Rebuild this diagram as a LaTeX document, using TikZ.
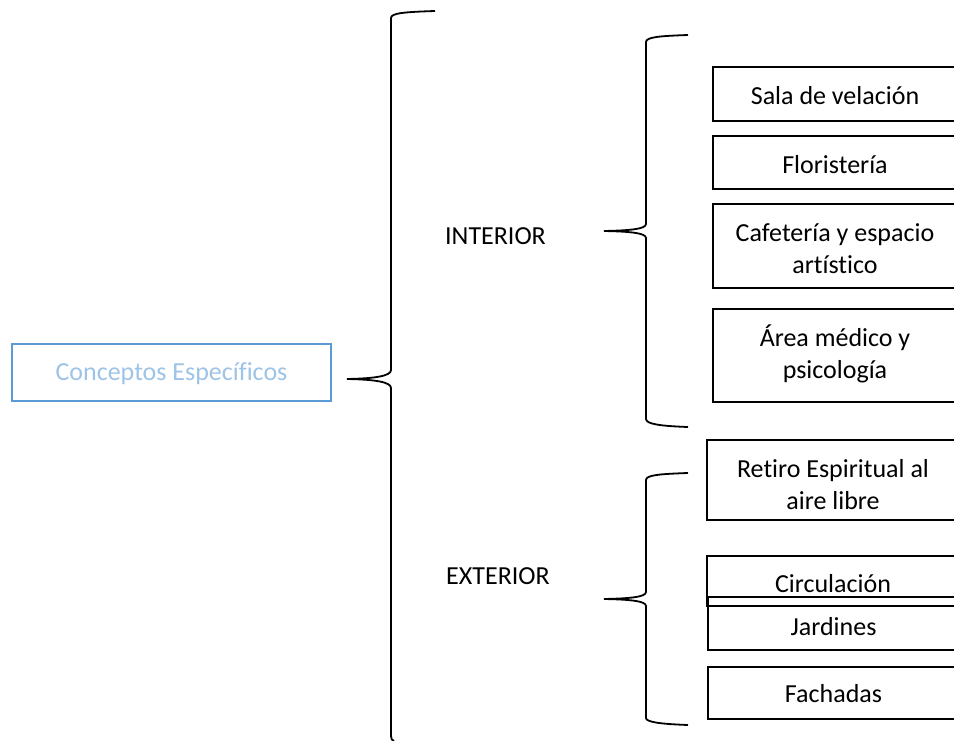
\documentclass[tikz,border=0pt]{standalone}
\usepackage{fontspec}
\setmainfont{Carlito}[Ligatures=CommonOff]
\definecolor{boxblue}{RGB}{91,155,213}
\definecolor{txtblue}{RGB}{157,195,230}
\begin{document}
\begin{tikzpicture}[x=1pt,y=-1pt,
  txt/.style={font=\fontsize{26}{32}\selectfont, align=center, inner sep=0pt},
  rootbox/.style={draw=boxblue, line width=2.6pt, inner sep=0pt},
  itembox/.style={draw=black, line width=1.8pt, inner sep=0pt},
  brace/.style={draw=black, line width=1.8pt}]
\useasboundingbox (0,0) rectangle (954,741);
\clip (0,0) rectangle (954,741);
% root
\node[rootbox, minimum width=319pt, minimum height=57pt,
  label={[txt, text=txtblue, yshift=-1pt]center:Conceptos Específicos}] (root) at (171.5,372.5) {};
% categories
\node[txt] (int) at (495.5,236) {INTERIOR};
\node[txt] (ext) at (498,576) {EXTERIOR};
% interior items
\node[itembox, minimum width=244pt, minimum height=54pt,
  label={[txt, yshift=-2pt]center:Sala de velación}] (sala) at (835,94) {};
\node[itembox, minimum width=244pt, minimum height=53pt,
  label={[txt, yshift=-2.5pt]center:Floristería}] (flor) at (835,162.5) {};
\node[itembox, minimum width=244pt, minimum height=84pt,
  label={[txt, yshift=-3pt]center:{Cafetería y espacio\\artístico}}] (cafe) at (835,246) {};
\node[itembox, minimum width=244pt, minimum height=93pt,
  label={[txt, yshift=1.5pt]center:{Área médico y\\psicología}}] (area) at (835,355.5) {};
% exterior items
\node[itembox, minimum width=252pt, minimum height=80pt,
  label={[txt, yshift=-4.5pt]center:{Retiro Espiritual al\\aire libre}}] (retiro) at (833,480) {};
\node[itembox, minimum width=252pt, minimum height=50pt,
  label={[txt, yshift=-3pt]center:Circulación}] (circ) at (833,581) {};
\node[itembox, minimum width=251pt, minimum height=53pt,
  label={[txt, yshift=-3pt]center:Jardines}] (jard) at (833.5,623.5) {};
\node[itembox, minimum width=251pt, minimum height=52pt,
  label={[txt, yshift=-1pt]center:Fachadas}] (fach) at (833.5,693) {};
% brace coordinates
\coordinate (bigtip) at (347,379);
\coordinate (bigtop) at (435,11);
\coordinate (bigbot) at (394,741);
\coordinate (inttip) at (604,231);
\coordinate (inttop) at (688,35);
\coordinate (intbot) at (688,427);
\coordinate (exttip) at (604,599);
\coordinate (exttop) at (688,473);
\coordinate (extbot) at (688,725);
% big brace
\draw[brace] (bigtop) .. controls (405,12) and (391,13) .. (391,18) -- (391,370)
  .. controls (391,376) and (375,378.5) .. (bigtip)
  .. controls (375,379.5) and (391,382) .. (391,388) -- (391,736)
  .. controls (391,739) and (392,740.5) .. (bigbot);
% interior brace
\draw[brace] (inttop) .. controls (660,36) and (646,37) .. (646,42) -- (646,224)
  .. controls (646,229) and (630,230.5) .. (inttip)
  .. controls (630,231.5) and (646,233) .. (646,238) -- (646,419)
  .. controls (646,424) and (660,426) .. (intbot);
% exterior brace
\draw[brace] (exttop) .. controls (660,474) and (646,475) .. (646,480) -- (646,592)
  .. controls (646,597) and (630,598.5) .. (exttip)
  .. controls (630,599.5) and (646,601) .. (646,606) -- (646,718)
  .. controls (646,722) and (660,724) .. (extbot);
\end{tikzpicture}
\end{document}
